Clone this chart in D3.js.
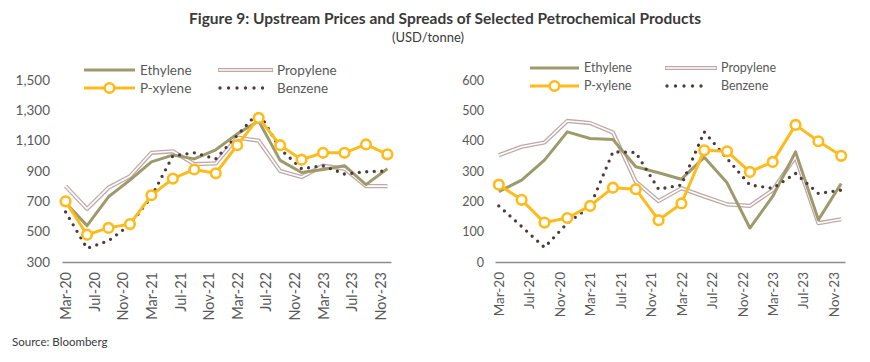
<!DOCTYPE html>
<html><head><meta charset="utf-8">
<script src="https://cdn.jsdelivr.net/npm/d3@7"></script>
<style>
body{margin:0;background:#fff;}
text{font-family:Lato,"Open Sans",sans-serif;}
</style></head>
<body><svg id="c" width="870" height="362"></svg>
<script>
// ---- data ----
const periods = ["Mar-20","Jun-20","Sep-20","Dec-20","Mar-21","Jun-21","Sep-21","Dec-21",
                 "Mar-22","Jun-22","Sep-22","Dec-22","Mar-23","Jun-23","Sep-23","Dec-23"];
const tickLabels = ["Mar-20","Jul-20","Nov-20","Mar-21","Jul-21","Nov-21","Mar-22","Jul-22","Nov-22","Mar-23","Jul-23","Nov-23"];
const seriesNames = ["Ethylene","Propylene","P-xylene","Benzene"];

// Left: upstream prices
const priceEthylene  = [690,540,730,840,960,1005,980,1040,1145,1230,970,890,910,935,810,915];
const pricePropylene = [800,650,790,865,1020,1030,945,950,1120,1100,900,860,935,915,800,800];
const pricePxylene   = [700,480,525,550,740,850,910,885,1070,1250,1070,975,1020,1020,1075,1010];
const priceBenzene   = [630,390,440,545,730,1000,1020,980,1135,1290,1045,915,935,880,895,900];
const leftTicks = [300,500,700,900,1100,1300,1500];

// Right: spreads
const spreadEthylene  = [232,270,336,429,407,404,314,294,273,345,261,112,216,363,139,259];
const spreadPropylene = [352,380,394,465,458,427,265,201,243,216,190,185,237,347,128,141];
const spreadPxylene   = [255,205,130,145,185,245,240,138,193,368,365,297,330,452,398,350];
const spreadBenzene   = [185,117,48,128,183,363,361,240,254,429,341,254,243,292,226,237];
const rightTicks = [0,100,200,300,400,500,600];

const title = "Figure 9: Upstream Prices and Spreads of Selected Petrochemical Products";
const subtitle = "(USD/tonne)";
const source = "Source: Bloomberg";

// ---- helpers ----
const monNames = ["Jan","Feb","Mar","Apr","May","Jun","Jul","Aug","Sep","Oct","Nov","Dec"];
function monthIndex(s){ const [m,y]=s.split("-"); return (+y-20)*12 + monNames.indexOf(m) - 2; }

const colors = {eth:"#9f9a6c", pro:"#bfa9a6", px:"#fdbb1c", bz:"#4d3b3b", axis:"#8c8c8c", text:"#595959"};
const svg = d3.select("#c");

svg.append("text").attr("x",445).attr("y",24).attr("text-anchor","middle")
  .attr("font-size",15.5).attr("font-weight","bold").attr("fill","#3a3a3a").text(title);
svg.append("text").attr("x",428).attr("y",42).attr("text-anchor","middle")
  .attr("font-size",13).attr("fill","#3a3a3a").text(subtitle);
svg.append("text").attr("x",12).attr("y",346).attr("font-size",11.5).attr("fill","#3a3a3a").text(source);

function panel(opts){
  const F = opts.font;
  const g = svg.append("g");
  const x = d3.scaleLinear().domain([-0.5,45.5]).range([opts.x0,opts.x1]);
  const y = d3.scaleLinear().domain(opts.ydom).range([262,80]);
  // y labels
  const yAxis = d3.axisLeft(y).tickValues(opts.yticks).tickSize(0).tickPadding(0)
      .tickFormat(d3.format(","));
  const ya = g.append("g").attr("transform",`translate(${opts.ylab},0)`).call(yAxis);
  ya.select(".domain").remove();
  ya.selectAll("text").attr("font-size",opts.yfs).attr("fill",colors.text).attr("font-family",F);
  // x axis
  const xa = g.append("g").attr("transform","translate(0,262)")
    .call(d3.axisBottom(x).tickValues(tickLabels.map(monthIndex)).tickSize(0)
          .tickFormat((d,i)=>tickLabels[i]));
  xa.select(".domain").attr("stroke",colors.axis).attr("stroke-width",1.5);
  xa.selectAll(".tick text").attr("font-size",opts.xfs).attr("fill",colors.text)
    .attr("font-family",F)
    .attr("text-anchor","end").attr("transform","rotate(-90)")
    .attr("x",-10).attr("y",0).attr("dy","0.35em");

  const line = d3.line().x((d,i)=>x(monthIndex(periods[i]))).y(d=>y(d));
  // propylene double line
  g.append("path").attr("d",line(opts.pro)).attr("fill","none").attr("stroke",colors.pro).attr("stroke-width",4.2).attr("stroke-linejoin","round");
  g.append("path").attr("d",line(opts.pro)).attr("fill","none").attr("stroke","#fff").attr("stroke-width",1.6).attr("stroke-linejoin","round");
  // ethylene
  g.append("path").attr("d",line(opts.eth)).attr("fill","none").attr("stroke",colors.eth).attr("stroke-width",3).attr("stroke-linejoin","round");
  // benzene dotted
  g.append("path").attr("d",line(opts.bz)).attr("fill","none").attr("stroke",colors.bz).attr("stroke-width",3.3)
    .attr("stroke-linecap","round").attr("stroke-dasharray","0 7.5");
  // p-xylene
  g.append("path").attr("d",line(opts.px)).attr("fill","none").attr("stroke",colors.px).attr("stroke-width",3).attr("stroke-linejoin","round");
  g.selectAll("circle.px").data(opts.px).join("circle").attr("class","px")
    .attr("cx",(d,i)=>x(monthIndex(periods[i]))).attr("cy",d=>y(d)).attr("r",4.8)
    .attr("fill","#fff").attr("stroke",colors.px).attr("stroke-width",2.6);

  // legend
  const L = opts.leg;
  const lg = g.append("g");
  function legText(xx,yy,t){ lg.append("text").attr("x",xx).attr("y",yy).attr("dy","0.35em").attr("font-size",opts.lfs).attr("font-family",F).attr("fill",colors.text).text(t); }
  lg.append("line").attr("x1",L.a0).attr("x2",L.a1).attr("y1",L.r1).attr("y2",L.r1).attr("stroke",colors.eth).attr("stroke-width",3);
  legText(L.a1+5,L.r1,seriesNames[0]);
  lg.append("line").attr("x1",L.b0).attr("x2",L.b1).attr("y1",L.r1).attr("y2",L.r1).attr("stroke",colors.pro).attr("stroke-width",4.2);
  lg.append("line").attr("x1",L.b0+0.8).attr("x2",L.b1-0.8).attr("y1",L.r1).attr("y2",L.r1).attr("stroke","#fff").attr("stroke-width",1.6);
  legText(L.b1+4,L.r1,seriesNames[1]);
  lg.append("line").attr("x1",L.a0).attr("x2",L.a1).attr("y1",L.r2).attr("y2",L.r2).attr("stroke",colors.px).attr("stroke-width",3);
  lg.append("circle").attr("cx",(L.a0+L.a1)/2).attr("cy",L.r2).attr("r",4.8).attr("fill","#fff").attr("stroke",colors.px).attr("stroke-width",2.6);
  legText(L.a1+5,L.r2,seriesNames[2]);
  lg.append("line").attr("x1",L.b0+2).attr("x2",L.b1-10).attr("y1",L.r2).attr("y2",L.r2).attr("stroke",colors.bz).attr("stroke-width",3.3)
    .attr("stroke-linecap","round").attr("stroke-dasharray","0 8.5");
  legText(L.b1+4,L.r2,seriesNames[3]);
}

panel({x0:62,x1:391,ylab:50,ydom:[300,1500],yticks:leftTicks,font:"Lato,'Open Sans',sans-serif",xfs:14.5,yfs:13.5,lfs:13.5,
  eth:priceEthylene,pro:pricePropylene,px:pricePxylene,bz:priceBenzene,
  leg:{a0:84,a1:135,b0:218,b1:273,r1:70,r2:88}});
panel({x0:495,x1:845,ylab:484,ydom:[0,600],yticks:rightTicks,font:"'Liberation Sans',Arial,sans-serif",xfs:13.5,yfs:12.5,lfs:12.5,
  eth:spreadEthylene,pro:spreadPropylene,px:spreadPxylene,bz:spreadBenzene,
  leg:{a0:530,a1:579,b0:665,b1:717,r1:68,r2:86}});
</script></body></html>
